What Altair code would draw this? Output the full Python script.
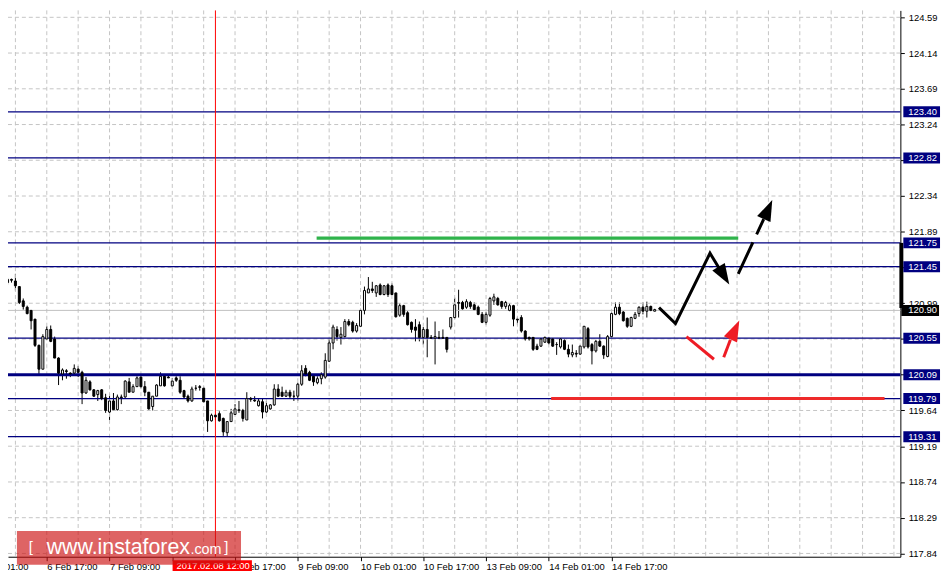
import altair as alt
import pandas as pd

# ---------------- data: hourly bars, bar 0 = 6 Feb 07:00 ----------------
opens = [121.25, 121.29, 121.27, 121.20, 121.02, 120.94, 120.90, 120.79, 120.46, 120.16,
         120.54, 120.66, 120.54, 120.30, 120.10, 120.14, 120.11, 120.11, 120.16, 120.12,
         119.86, 120.00, 119.90, 119.84, 119.90, 119.80, 119.62, 119.76, 119.65, 119.81,
         119.81, 120.00, 119.87, 119.94, 120.06, 119.94, 119.87, 119.69, 119.82, 119.95,
         120.07, 120.06, 119.95, 120.05, 120.02, 119.89, 119.82, 119.76, 119.92, 119.94,
         119.92, 119.76, 119.51, 119.58, 119.60, 119.54, 119.36, 119.50, 119.59, 119.64,
         119.64, 119.52, 119.79, 119.77, 119.70, 119.75, 119.62, 119.66, 119.71, 119.91,
         119.87, 119.82, 119.87, 119.82, 119.82, 119.97, 120.17, 120.12, 120.07, 119.99,
         120.04, 120.06, 120.26, 120.49, 120.66, 120.56, 120.57, 120.76, 120.75, 120.64,
         120.70, 120.90, 121.12, 121.17, 121.12, 121.22, 121.10, 121.22, 121.21, 121.12,
         120.84, 120.96, 120.87, 120.75, 120.69, 120.72, 120.56, 120.66, 120.56, 120.55,
         120.56, 120.56, 120.56, 120.69, 120.81, 121.00, 121.00, 120.94, 121.00, 120.97,
         120.94, 120.85, 120.75, 120.84, 121.02, 121.05, 121.01, 120.95, 120.90, 120.96,
         120.79, 120.81, 120.64, 120.56, 120.56, 120.45, 120.45, 120.50, 120.55, 120.54,
         120.47, 120.44, 120.52, 120.41, 120.34, 120.36, 120.35, 120.44, 120.67, 120.47,
         120.39, 120.51, 120.45, 120.32, 120.57, 120.85, 120.94, 120.88, 120.80, 120.70,
         120.80, 120.86, 120.94, 120.89, 120.95, 120.89]
highs = [121.31, 121.30, 121.36, 121.20, 121.05, 120.96, 120.90, 120.79, 120.47, 120.60,
         120.70, 120.71, 120.57, 120.31, 120.17, 120.16, 120.12, 120.22, 120.20, 120.14,
         120.06, 120.02, 119.91, 119.90, 119.91, 119.85, 119.85, 119.86, 119.84, 119.84,
         120.02, 120.05, 119.97, 120.07, 120.07, 120.01, 119.87, 119.82, 119.97, 120.12,
         120.10, 120.09, 120.05, 120.07, 120.07, 119.90, 119.84, 119.94, 119.96, 119.96,
         119.94, 119.76, 119.60, 119.60, 119.63, 119.55, 119.50, 119.66, 119.72, 119.76,
         119.66, 119.87, 119.81, 119.82, 119.79, 119.79, 119.76, 119.72, 119.97, 119.97,
         119.94, 119.90, 119.90, 119.89, 119.99, 120.21, 120.21, 120.14, 120.09, 120.07,
         120.12, 120.36, 120.54, 120.72, 120.70, 120.69, 120.79, 120.79, 120.77, 120.74,
         120.92, 121.20, 121.32, 121.26, 121.22, 121.24, 121.22, 121.24, 121.24, 121.12,
         120.99, 120.97, 120.89, 120.76, 120.79, 120.76, 120.69, 120.81, 120.59, 120.76,
         120.64, 120.66, 120.56, 120.81, 121.06, 121.16, 121.02, 121.04, 121.02, 121.00,
         120.96, 120.88, 120.88, 121.07, 121.11, 121.07, 121.02, 121.02, 120.99, 120.97,
         120.82, 120.84, 120.65, 120.57, 120.56, 120.48, 120.55, 120.57, 120.56, 120.55,
         120.50, 120.55, 120.54, 120.47, 120.47, 120.40, 120.46, 120.70, 120.69, 120.49,
         120.53, 120.60, 120.46, 120.59, 120.88, 121.00, 121.00, 120.89, 120.81, 120.82,
         120.88, 120.95, 121.00, 121.01, 120.96, 120.92]
lows = [121.22, 121.25, 121.15, 120.98, 120.91, 120.85, 120.66, 120.44, 120.10, 120.16,
        120.54, 120.50, 120.30, 119.96, 120.02, 120.04, 120.06, 120.10, 120.06, 119.72,
        119.85, 119.89, 119.81, 119.76, 119.77, 119.61, 119.52, 119.64, 119.64, 119.72,
        119.80, 119.87, 119.87, 119.94, 119.92, 119.82, 119.65, 119.64, 119.82, 119.95,
        119.94, 120.05, 119.94, 120.00, 119.85, 119.79, 119.74, 119.75, 119.89, 119.89,
        119.74, 119.37, 119.50, 119.52, 119.50, 119.32, 119.31, 119.50, 119.59, 119.61,
        119.50, 119.52, 119.75, 119.75, 119.69, 119.54, 119.61, 119.65, 119.70, 119.81,
        119.81, 119.81, 119.79, 119.76, 119.76, 119.95, 120.07, 120.01, 119.95, 119.97,
        119.97, 120.04, 120.25, 120.41, 120.52, 120.47, 120.56, 120.70, 120.62, 120.62,
        120.69, 120.85, 121.12, 121.12, 121.07, 121.09, 121.09, 121.07, 121.09, 120.81,
        120.82, 120.82, 120.71, 120.62, 120.51, 120.51, 120.47, 120.31, 120.54, 120.22,
        120.54, 120.54, 120.37, 120.66, 120.79, 120.81, 120.91, 120.92, 120.92, 120.90,
        120.84, 120.74, 120.72, 120.82, 120.97, 120.96, 120.92, 120.92, 120.89, 120.70,
        120.72, 120.62, 120.52, 120.52, 120.39, 120.40, 120.44, 120.49, 120.47, 120.44,
        120.34, 120.42, 120.40, 120.31, 120.31, 120.31, 120.34, 120.42, 120.42, 120.22,
        120.37, 120.44, 120.29, 120.31, 120.56, 120.84, 120.84, 120.76, 120.68, 120.69,
        120.79, 120.82, 120.85, 120.81, 120.89, 120.89]
closes = [121.29, 121.28, 121.21, 121.00, 120.95, 120.86, 120.77, 120.46, 120.16, 120.57,
          120.66, 120.51, 120.30, 120.11, 120.15, 120.13, 120.10, 120.17, 120.12, 119.86,
          120.02, 119.90, 119.82, 119.89, 119.79, 119.64, 119.76, 119.65, 119.81, 119.80,
          120.01, 119.87, 119.94, 120.05, 119.94, 119.87, 119.66, 119.82, 119.96, 120.07,
          119.95, 120.05, 120.01, 120.02, 119.87, 119.81, 119.76, 119.91, 119.92, 119.93,
          119.75, 119.51, 119.58, 119.56, 119.51, 119.37, 119.50, 119.61, 119.66, 119.65,
          119.54, 119.79, 119.78, 119.76, 119.76, 119.62, 119.70, 119.71, 119.91, 119.82,
          119.82, 119.87, 119.82, 119.82, 119.97, 120.14, 120.10, 120.02, 120.00, 120.04,
          120.09, 120.27, 120.49, 120.69, 120.57, 120.60, 120.76, 120.72, 120.64, 120.71,
          120.90, 121.15, 121.17, 121.15, 121.21, 121.10, 121.21, 121.10, 121.10, 120.82,
          120.96, 120.85, 120.72, 120.66, 120.65, 120.56, 120.66, 120.56, 120.55, 120.57,
          120.55, 120.55, 120.41, 120.81, 120.97, 120.99, 120.92, 121.01, 120.95, 120.91,
          120.85, 120.75, 120.85, 121.05, 121.07, 120.97, 120.95, 121.00, 120.96, 120.79,
          120.78, 120.64, 120.54, 120.54, 120.41, 120.41, 120.54, 120.56, 120.49, 120.45,
          120.47, 120.54, 120.41, 120.35, 120.37, 120.35, 120.45, 120.70, 120.44, 120.39,
          120.51, 120.45, 120.34, 120.57, 120.86, 120.94, 120.86, 120.77, 120.70, 120.81,
          120.85, 120.94, 120.89, 120.95, 120.90, 120.91]

x_tick_bars = [10, 26, 42, 58, 74, 90, 106, 122, 138, 154]
x_tick_labels = ["6 Feb 17:00", "7 Feb 09:00", "", "8 Feb 17:00", "9 Feb 09:00",
                 "10 Feb 01:00", "10 Feb 17:00", "13 Feb 09:00", "14 Feb 01:00", "14 Feb 17:00"]
first_label = "6 Feb 01:00"   # cut off at the left edge
grid_bars = [2, 10, 18, 26, 34, 42, 50, 58, 66, 74, 82, 90, 98, 106, 114, 122, 130, 138,
             146, 154, 162, 170, 178, 186, 194, 202, 210, 218, 226]
price_ticks = [124.59, 124.14, 123.69, 123.24, 122.79, 122.34, 121.89, 121.44, 120.99,
               120.54, 120.09, 119.64, 119.19, 118.74, 118.29, 117.84]
hidden_price_ticks = [122.79, 121.44, 120.54, 120.09]
level_prices = [123.40, 122.82, 121.75, 121.45, 120.55, 120.09, 119.79, 119.31]
bid_price = 120.90

marker_bar = 53
marker_label = "2017.02.08 12:00"

green_k = [78.8, 186.3]
green_p = 121.81
red_k = [138.6, 223.6]
red_p = 119.79

black_path_k = [166.1, 170.3, 179.1, 182.6]
black_path_p = [120.935, 120.735, 121.62, 121.335]
dash_path_k = [186.3, 192.8]
dash_path_p = [121.36, 122.05]
red_check_k = [173.1, 180.1]
red_check_p = [120.57, 120.285]
red_arrow_k = [182.6, 184.3]
red_arrow_p = [120.31, 120.53]
black_head_k = [182.65, 193.9]
black_head_p = [121.3375, 122.17]
black_head_angle = [149, 24]
red_head_k = [185.45]
red_head_p = [120.654]
red_head_angle = [25]

# ---------------- frames ----------------
candles = pd.DataFrame({"k": list(range(len(opens))), "o": opens, "h": highs, "l": lows, "c": closes})
candles["dir"] = ["up" if c >= o else "down" for o, c in zip(opens, closes)]

X_DOM = [1.375, 226.375]
Y_DOM = [117.7985, 124.677]
xs = alt.Scale(domain=X_DOM, nice=False, zero=False)
ys = alt.Scale(domain=Y_DOM, nice=False, zero=False)
FONT = "Liberation Sans"

x_label_expr = " : ".join(f"datum.value == {k} ? '{t}'" for k, t in zip(x_tick_bars, x_tick_labels)) + " : ''"
y_label_expr = " || ".join(f"abs(datum.value - {v}) < 0.001" for v in hidden_price_ticks) + " ? '' : format(datum.value, '.2f')"

X_AXIS = alt.Axis(values=x_tick_bars, labelExpr=x_label_expr, title=None, grid=False,
                  orient="bottom", labelAlign="left", labelPadding=1, tickSize=4,
                  labelFont=FONT, labelFontSize=9.5, labelColor="black",
                  tickColor="black", domainColor="black", labelOverlap=False,
                  labelFlush=False)
Y_AXIS = alt.Axis(values=price_ticks, labelExpr=y_label_expr, title=None, grid=False,
                  orient="right", tickSize=4, labelPadding=4, labelFont=FONT,
                  labelFontSize=9.5, labelColor="black", tickColor="black",
                  domainColor="black", labelOverlap=False, labelFlush=False)


def X(field):
    return alt.X(field, scale=xs, axis=X_AXIS)


def Y(field):
    return alt.Y(field, scale=ys, axis=Y_AXIS)


one = pd.DataFrame({"z": [0]})

vgrid = alt.Chart(pd.DataFrame({"k": grid_bars})).mark_rule(
    color="#c4c4c4", strokeDash=[4, 3], strokeWidth=1
).encode(x=X("k:Q"))

hgrid = alt.Chart(pd.DataFrame({"p": price_ticks})).mark_rule(
    color="#c4c4c4", strokeDash=[4, 3], strokeWidth=1
).encode(y=Y("p:Q"))

bid_line = alt.Chart(pd.DataFrame({"p": [bid_price]})).mark_rule(
    color="#c0c0c0", strokeWidth=1
).encode(y=Y("p:Q"))

levels = alt.Chart(pd.DataFrame({"p": level_prices})).mark_rule(color="#000080").encode(
    y=Y("p:Q"),
    strokeWidth=alt.condition(alt.datum.p == 120.09, alt.value(3), alt.value(1.2)),
)

wicks = alt.Chart(candles).mark_rule(color="black", strokeWidth=1, clip=True).encode(
    x=X("k:Q"), y=Y("l:Q"), y2="h:Q",
)

bodies = alt.Chart(candles).mark_bar(size=2, stroke="black", strokeWidth=1, clip=True).encode(
    x=X("k:Q"),
    y=Y("o:Q"),
    y2="c:Q",
    fill=alt.Fill("dir:N", scale=alt.Scale(domain=["up", "down"], range=["white", "black"]), legend=None),
)

marker_line = alt.Chart(pd.DataFrame({"k": [marker_bar]})).mark_rule(color="#ff0000", strokeWidth=1).encode(
    x=X("k:Q")
)

green = alt.Chart(pd.DataFrame({"k1": [green_k[0]], "k2": [green_k[1]], "p": [green_p]})).mark_rule(
    color="#2fb34b", strokeWidth=3.5
).encode(x=X("k1:Q"), x2="k2:Q", y=Y("p:Q"))

redline = alt.Chart(pd.DataFrame({"k1": [red_k[0]], "k2": [red_k[1]], "p": [red_p]})).mark_rule(
    color="#ee2a2a", strokeWidth=3
).encode(x=X("k1:Q"), x2="k2:Q", y=Y("p:Q"))


def path(ks, ps, color, dash=None, width=3):
    df = pd.DataFrame({"k": ks, "p": ps, "i": list(range(len(ks)))})
    kw = dict(color=color, strokeWidth=width, strokeCap="butt", strokeJoin="miter")
    if dash:
        kw["strokeDash"] = dash
    return alt.Chart(df).mark_line(**kw).encode(x=X("k:Q"), y=Y("p:Q"), order="i:Q")


black_path = path(black_path_k, black_path_p, "black")
dash_path = path(dash_path_k, dash_path_p, "black", dash=[35, 9])
red_check = path(red_check_k, red_check_p, "#ee1c25")
red_arrow = path(red_arrow_k, red_arrow_p, "#ee1c25")

HEAD = "M0,-1L0.7,1L-0.7,1Z"
black_heads = alt.Chart(pd.DataFrame({"k": black_head_k, "p": black_head_p, "a": black_head_angle})).mark_point(
    shape=HEAD, filled=True, size=441, color="black", opacity=1
).encode(x=X("k:Q"), y=Y("p:Q"), angle=alt.Angle("a:Q", scale=None))

red_heads = alt.Chart(pd.DataFrame({"k": red_head_k, "p": red_head_p, "a": red_head_angle})).mark_point(
    shape=HEAD, filled=True, size=441, color="#ee1c25", opacity=1
).encode(x=X("k:Q"), y=Y("p:Q"), angle=alt.Angle("a:Q", scale=None))

# right-hand price boxes
lv = pd.DataFrame({"p": level_prices})
lv["lo"] = lv["p"] - 0.069
lv["hi"] = lv["p"] + 0.069
lv["t"] = [f"{v:.2f}" for v in level_prices]
level_boxes = alt.Chart(lv).mark_rect(color="#000080").encode(
    x=alt.value(903), x2=alt.value(940), y=Y("lo:Q"), y2="hi:Q"
)
level_text = alt.Chart(lv).mark_text(
    align="left", baseline="middle", color="white", font=FONT, fontSize=9.5
).encode(x=alt.value(908), y=Y("p:Q"), text="t:N")

bd = pd.DataFrame({"p": [bid_price], "lo": [bid_price - 0.069], "hi": [bid_price + 0.069],
                   "t": [f"{bid_price:.2f}"]})
bid_box = alt.Chart(bd).mark_rect(color="black").encode(
    x=alt.value(901), x2=alt.value(939), y=Y("lo:Q"), y2="hi:Q"
)
bid_text = alt.Chart(bd).mark_text(
    align="left", baseline="middle", color="white", font=FONT, fontSize=9.5
).encode(x=alt.value(908), y=Y("p:Q"), text="t:N")

axis_bar = alt.Chart(pd.DataFrame({"p1": [121.75], "p2": [120.93]})).mark_rule(
    color="black", strokeWidth=4
).encode(x=alt.value(901), y=Y("p1:Q"), y2="p2:Q")

# label of the first (cut-off) time tick
first_tick_text = alt.Chart(pd.DataFrame({"t": [first_label]})).mark_text(
    align="left", baseline="top", color="black", font=FONT, fontSize=9.5
).encode(x=alt.value(-30), y=alt.value(556), text="t:N")

# date label under the red vertical line
date_box = alt.Chart(one).mark_rect(color="#ff0000").encode(
    x=alt.value(166), x2=alt.value(246), y=alt.value(554.5), y2=alt.value(565.5)
)
date_text = alt.Chart(pd.DataFrame({"t": [marker_label]})).mark_text(
    align="left", baseline="middle", color="white", font=FONT, fontSize=9.5
).encode(x=alt.value(170), y=alt.value(560.5), text="t:N")

# watermark
wm_box = alt.Chart(one).mark_rect(color="#cc1111", opacity=0.65).encode(
    x=alt.value(9), x2=alt.value(235), y=alt.value(525), y2=alt.value(559)
)


def wm_text(t, x, size, y=548):
    return alt.Chart(pd.DataFrame({"t": [t]})).mark_text(
        align="left", baseline="alphabetic", color="white", font=FONT, fontSize=size
    ).encode(x=alt.value(x), y=alt.value(y), text="t:N")


wm = [wm_text("[", 21, 15, 546), wm_text("www.instaforex", 39, 21.5), wm_text(".com", 184, 14.5),
      wm_text("]", 218, 15, 546)]

chart = alt.layer(
    wicks, vgrid, hgrid, bid_line, levels, marker_line, green, redline, bodies,
    black_path, dash_path, red_check, red_arrow, black_heads, red_heads,
    axis_bar, level_boxes, level_text, bid_box, bid_text, first_tick_text,
    date_box, date_text, wm_box, *wm,
).properties(
    width=900, height=551, background="white",
    autosize=alt.AutoSizeParams(type="none"),
    padding={"left": 0, "top": 0, "right": 43, "bottom": 17},
).configure_view(stroke=None)

chart.save("out.html", embed_options={"renderer": "svg", "actions": False})
